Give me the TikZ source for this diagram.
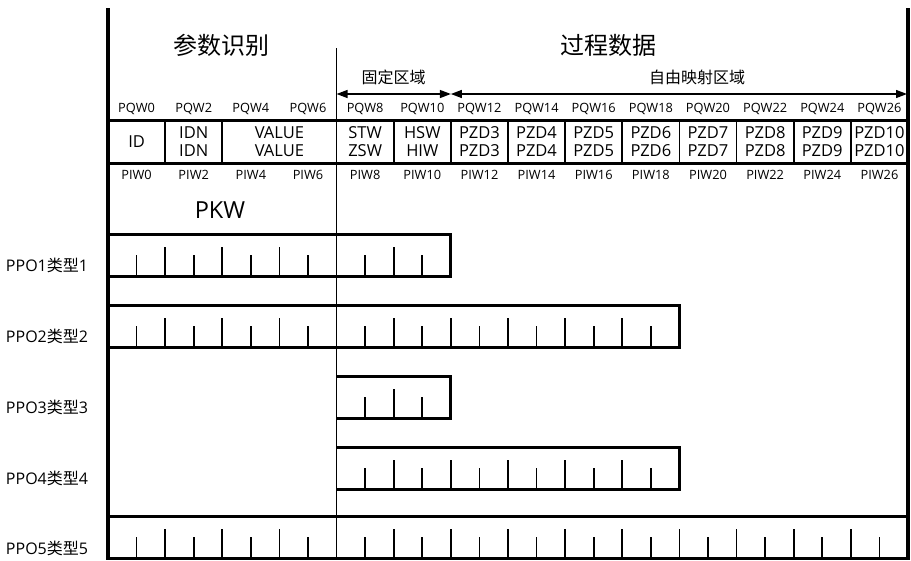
\documentclass[tikz,border=0pt]{standalone}
\usepackage{fontspec}
\setmainfont{Open Sans}
\newfontfamily\cjk{Noto Sans CJK SC}
\usetikzlibrary{arrows.meta}
\begin{document}
\begin{tikzpicture}[x=1pt,y=-1pt,
  border/.style={line width=4pt},
  hline/.style={line width=3pt},
  vline/.style={line width=1.8pt},
  divline/.style={line width=1.6pt},
  tickline/.style={line width=1.8pt},
  rowbox/.style={line width=3pt},
  qlab/.style={font=\fontsize{12.8}{13}\selectfont, inner sep=0pt},
  cell/.style={font=\fontsize{16.5}{18}\selectfont, align=center, inner sep=0pt},
  bigtitle/.style={font=\cjk\fontsize{24}{24}\selectfont, inner sep=0pt},
  zonelab/.style={font=\cjk\fontsize{16}{16}\selectfont, inner sep=0pt},
  ppolab/.style={font=\fontsize{16}{16}\selectfont, inner sep=0pt},
  dimarrow/.style={line width=1.3pt, {Triangle[length=11pt,width=8pt]}-{Triangle[length=11pt,width=8pt]}}
]
\useasboundingbox (0,0) rectangle (911,560);
\def\bw{28.5714}
% titles
\node[bigtitle] (tpar) at (221,45) {参数识别};
\node[bigtitle] (tproc) at (608,45) {过程数据};
\node[zonelab] (zfix) at (393.5,77) {固定区域};
\node[zonelab] (zfree) at (697,77) {自由映射区域};
% dimension arrows
\coordinate (a0) at ({108+8*\bw},94);
\coordinate (a1) at ({108+12*\bw},94);
\coordinate (a2) at (907,94);
\draw[dimarrow] (a0) -- (a1);
\draw[dimarrow] (a1) -- (a2);
% PQW / PIW labels
\foreach \i in {0,...,13} {
  \pgfmathtruncatemacro\n{2*\i}
  \node[qlab] (pqw\n) at ({108+(2*\i+1)*\bw},109) {PQW\n};
  \node[qlab] (piw\n) at ({108+(2*\i+1)*\bw},175) {PIW\n};
}
% table
\draw[hline] (108,120) -- (908,120);
\draw[hline] (108,163) -- (908,163);
\foreach \w in {1,2,5,6,7,8,9,10,11,12,13} {
  \draw[vline] ({108+2*\w*\bw},120) -- ({108+2*\w*\bw},163);
}
\node[cell] (cid) at ({108+1*\bw},142) {ID};
\node[cell] (cidn) at ({108+3*\bw},142) {IDN\\IDN};
\node[cell] (cval) at ({108+6*\bw},142) {VALUE\\VALUE};
\node[cell] (cstw) at ({108+9*\bw},142) {STW\\ZSW};
\node[cell] (chsw) at ({108+11*\bw},142) {HSW\\HIW};
\foreach \p in {3,...,10} {
  \node[cell] (cpzd\p) at ({108+(2*\p+7)*\bw},142) {PZD\p\\PZD\p};
}
\node[bigtitle, font=\fontsize{23.5}{24}\selectfont] (pkw) at (220,210) {PKW};
% PPO rows
\newcommand\pporow[4]{%
  % #1 top, #2 start byte, #3 end byte, #4 name
  \draw[rowbox] ({108+#2*\bw},#1) -- ({108+#3*\bw},#1) -- ({108+#3*\bw},{#1+42}) -- ({108+#2*\bw},{#1+42});
  \pgfmathtruncatemacro\ka{#2+1}
  \pgfmathtruncatemacro\kb{#3-1}
  \foreach \k in {\ka,...,\kb} {
    \pgfmathsetmacro\th{ifthenelse(mod(\k,2)==0,29,21)}
    \draw[tickline] ({108+\k*\bw},{#1+42}) -- ({108+\k*\bw},{#1+42-\th});
  }
}
\pporow{234}{0}{12}{p1}
\pporow{305}{0}{20}{p2}
\pporow{376}{8}{12}{p3}
\pporow{447}{8}{20}{p4}
\pporow{516}{0}{28}{p5}
\node[ppolab] (l1) at (47,265) {PPO1{\cjk 类型}1};
\node[ppolab] (l2) at (47,336) {PPO2{\cjk 类型}2};
\node[ppolab] (l3) at (47,407) {PPO3{\cjk 类型}3};
\node[ppolab] (l4) at (47,478) {PPO4{\cjk 类型}4};
\node[ppolab] (l5) at (47,548) {PPO5{\cjk 类型}5};
% divider and borders
\draw[divline] ({108+8*\bw},48) -- ({108+8*\bw},560);
\draw[border] (108,8) -- (108,560);
\draw[border] (908,8) -- (908,560);
\end{tikzpicture}
\end{document}
